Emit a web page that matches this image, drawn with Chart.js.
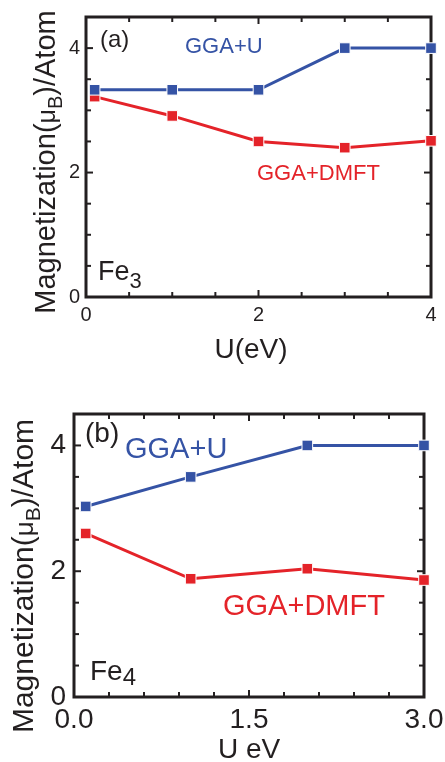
<!DOCTYPE html>
<html>
<head>
<meta charset="utf-8">
<script src="https://cdn.jsdelivr.net/npm/chart.js@4.4.1/dist/chart.umd.min.js"></script>
<style>
  html, body { margin: 0; padding: 0; background: #fff; }
  #wrap { position: relative; width: 445px; height: 762px; overflow: hidden; }
  canvas { position: absolute; left: 0; }
  #ca { top: 0; }
  #cb { top: 380px; }
</style>
</head>
<body>
<div id="wrap">
  <canvas id="ca" width="445" height="380"></canvas>
  <canvas id="cb" width="445" height="382"></canvas>
</div>
<script>
/* Magnetization per atom vs U, Fe3 (a) and Fe4 (b), GGA+U vs GGA+DMFT */
var FONT = "'Liberation Sans', Arial, Helvetica, sans-serif";
var BLUE = "#3553a5", RED = "#e42329", INK = "#231f20";

// ---- data: panel (a) Fe3 ----
var uA = [0.1, 1, 2, 3, 4];
var ggaUA = [3.33, 3.33, 3.33, 4.0, 4.0];
var dmftA = [3.22, 2.91, 2.50, 2.40, 2.51];
var xLabelsA = [0, 2, 4];

// ---- data: panel (b) Fe4 ----
var uB = [0.1, 1, 2, 3];
var ggaUB = [3.03, 3.50, 4.0, 4.0];
var dmftB = [2.60, 1.88, 2.04, 1.86];
var xLabelsB = [0, 1.5, 3];

var yLabels = [0, 2, 4];

function isIn(list, v) {
  return list.some(function (m) { return Math.abs(m - v) < 1e-6; });
}

function series(xs, ys, color) {
  return {
    data: xs.map(function (x, i) { return { x: x, y: ys[i] }; }),
    borderColor: color,
    backgroundColor: color,
    borderWidth: 3,
    pointStyle: "rect",
    pointRadius: 7.5,
    pointHoverRadius: 7.5,
    pointBorderColor: "#fff",
    pointBorderWidth: 1,
    tension: 0,
    clip: false
  };
}

function line(ctx, x1, y1, x2, y2) {
  ctx.beginPath(); ctx.moveTo(x1, y1); ctx.lineTo(x2, y2); ctx.stroke();
}

// text with an optional subscript piece; rotated when rot is set
function richText(ctx, parts, x, y, size, color, align, rot) {
  ctx.save();
  ctx.translate(x, y);
  if (rot) ctx.rotate(rot);
  ctx.fillStyle = color;
  ctx.textBaseline = "alphabetic";
  ctx.textAlign = "left";
  var total = 0;
  parts.forEach(function (p) {
    ctx.font = Math.round(size * (p.s || 1)) + "px " + FONT;
    p.w = ctx.measureText(p.t).width;
    total += p.w;
  });
  var cx = align === "center" ? -total / 2 : 0;
  parts.forEach(function (p) {
    ctx.font = Math.round(size * (p.s || 1)) + "px " + FONT;
    ctx.fillText(p.t, cx, (p.dy || 0));
    cx += p.w;
  });
  ctx.restore();
}

function framePlugin(p) {
  return {
    id: "frame",
    beforeDatasetsDraw: function (chart) {
      var ctx = chart.ctx, a = chart.chartArea, xs = chart.scales.x, ys = chart.scales.y;
      ctx.save();
      ctx.strokeStyle = INK;
      ctx.lineWidth = 2;
      xs.ticks.forEach(function (t) {
        var px = xs.getPixelForValue(t.value), len = t.label !== "" ? 7 : 5;
        line(ctx, px, a.bottom, px, a.bottom - len);
        line(ctx, px, a.top, px, a.top + len);
      });
      ys.ticks.forEach(function (t) {
        var py = ys.getPixelForValue(t.value), len = t.label !== "" ? 7 : 5;
        line(ctx, a.left, py, a.left + len, py);
        line(ctx, a.right, py, a.right - len, py);
      });
      ctx.lineWidth = 3;
      ctx.strokeRect(a.left, a.top, a.right - a.left, a.bottom - a.top);
      ctx.restore();
    },
    afterDraw: function (chart) {
      var ctx = chart.ctx;
      // axis titles
      richText(ctx, [
        { t: "Magnetization(" },
        { t: "\u03bc", s: 0.85 },
        { t: "B", s: 0.7, dy: 7 },
        { t: ")/Atom" }
      ], p.yTitle.x, p.yTitle.y, p.yTitle.size, INK, "center", -Math.PI / 2);
      richText(ctx, [{ t: p.xTitle.text }], p.xTitle.x, p.xTitle.y, p.xTitle.size, INK, "center");
      // panel annotations
      richText(ctx, [{ t: p.tag.text }], p.tag.x, p.tag.y, p.tag.size, INK);
      richText(ctx, [{ t: "GGA+U" }], p.ggu.x, p.ggu.y, p.ggu.size, BLUE);
      richText(ctx, [{ t: "GGA+DMFT" }], p.dmft.x, p.dmft.y, p.dmft.size, RED);
      richText(ctx, [{ t: "Fe" }, { t: p.fe.sub, s: p.fe.subScale, dy: p.fe.dy }],
        p.fe.x, p.fe.y, p.fe.size, INK);
    }
  };
}

function makePanel(id, p) {
  return new Chart(document.getElementById(id), {
    type: "line",
    data: { datasets: [series(p.u, p.gu, BLUE), series(p.u, p.dm, RED)] },
    options: {
      responsive: false,
      animation: false,
      events: [],
      layout: { padding: p.pad },
      plugins: { legend: { display: false }, tooltip: { enabled: false } },
      scales: {
        x: {
          type: "linear", min: 0, max: p.xMax,
          grid: { display: false, drawTicks: false },
          border: { display: false },
          ticks: {
            stepSize: p.xStep, autoSkip: false, maxRotation: 0, padding: p.xPad,
            color: INK, font: { family: FONT, size: p.tickSize },
            callback: function (v) { return isIn(p.xMajor, v) ? p.xFmt(v) : ""; }
          },
          afterFit: function (s) { s.height = p.xH; s.paddingLeft = 0; s.paddingRight = 0; }
        },
        y: {
          type: "linear", min: 0, max: 4.5,
          grid: { display: false, drawTicks: false },
          border: { display: false },
          ticks: {
            stepSize: 0.5, autoSkip: false, padding: p.yPad,
            color: INK, font: { family: FONT, size: p.tickSize },
            callback: function (v) { return isIn(yLabels, v) ? String(v) : ""; }
          },
          afterFit: function (s) { s.width = p.yW; s.paddingTop = 0; s.paddingBottom = 0; }
        }
      }
    },
    plugins: [framePlugin(p)]
  });
}

makePanel("ca", {
  u: uA, gu: ggaUA, dm: dmftA,
  xMax: 4, xStep: 0.5, xMajor: xLabelsA, xFmt: function (v) { return String(Math.round(v)); },
  pad: { left: 0, right: 14, top: 17, bottom: 0 }, xH: 83, yW: 86,
  tickSize: 20, xPad: 6, yPad: 6,
  yTitle: { x: 55, y: 162, size: 29 },
  xTitle: { text: "U(eV)", x: 251, y: 358, size: 28 },
  tag: { text: "(a)", x: 100, y: 47, size: 24 },
  ggu: { x: 185, y: 53, size: 22 },
  dmft: { x: 257, y: 180, size: 22 },
  fe: { sub: "3", x: 98, y: 280, size: 27, subScale: 0.82, dy: 8 }
});

makePanel("cb", {
  u: uB, gu: ggaUB, dm: dmftB,
  xMax: 3, xStep: 0.3, xMajor: xLabelsB, xFmt: function (v) { return v.toFixed(1); },
  pad: { left: 0, right: 21, top: 34, bottom: 0 }, xH: 65, yW: 74,
  tickSize: 28, xPad: 6, yPad: 8,
  yTitle: { x: 33, y: 196, size: 30 },
  xTitle: { text: "U eV", x: 249, y: 378, size: 28 },
  tag: { text: "(b)", x: 85, y: 62, size: 28 },
  ggu: { x: 125, y: 78, size: 29 },
  dmft: { x: 223, y: 235, size: 29 },
  fe: { sub: "4", x: 90, y: 300, size: 28, subScale: 0.85, dy: 5 }
});
</script>
</body>
</html>
